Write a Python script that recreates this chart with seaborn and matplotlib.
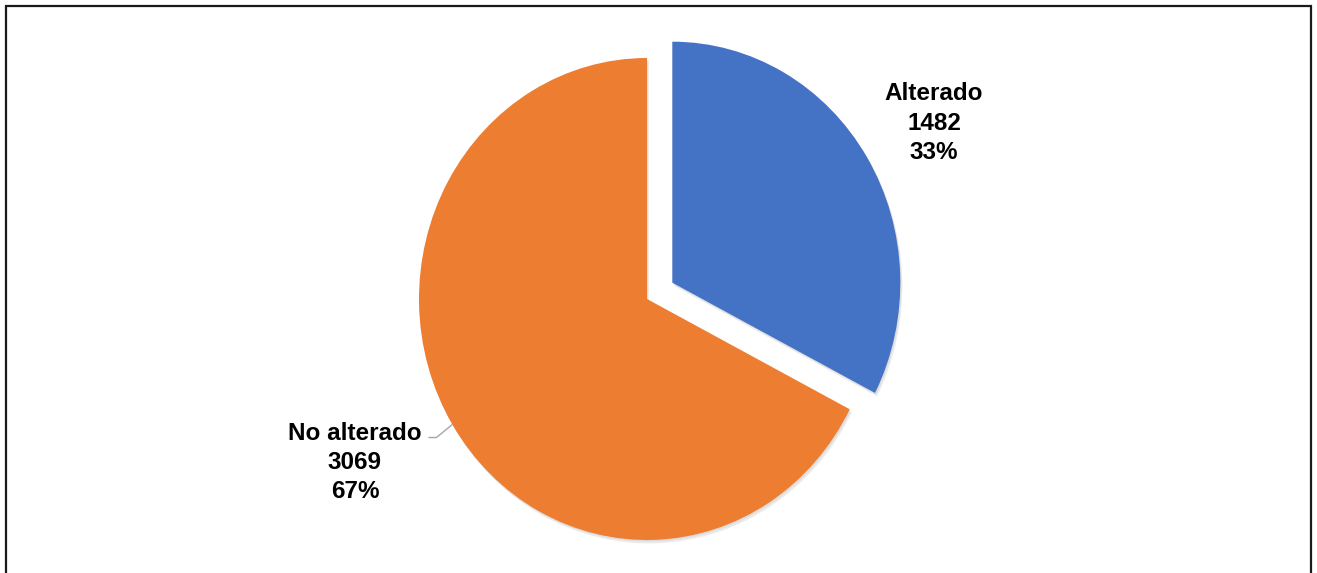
import numpy as np
import matplotlib
matplotlib.use("Agg")
import matplotlib.pyplot as plt
import matplotlib.patheffects as pe
from matplotlib.patches import Rectangle
import seaborn as sns

# Data
categories = ["Alterado", "No alterado"]
counts = [1482, 3069]
colors = ["#4472C4", "#ED7D31"]
explode = [0.13, 0.0]

sns.set_theme(style="white")
plt.rcParams["font.family"] = ["Liberation Sans", "DejaVu Sans"]

W, H = 1317, 573
fig = plt.figure(figsize=(W / 100, H / 100), dpi=100)
fig.patch.set_facecolor("white")

# Axes covering the full figure; pie centre sits at (647, 299) px,
# with a slightly narrower horizontal radius than vertical
cx, cy = 647, 299
rx, ry = 228, 241
ax = fig.add_axes([0, 0, 1, 1])

shadow = [
    pe.SimplePatchShadow(offset=(1.5, -2.5), shadow_rgbFace="#999999", alpha=0.18),
    pe.SimplePatchShadow(offset=(0.8, -1.2), shadow_rgbFace="#999999", alpha=0.18),
    pe.Normal(),
]

wedges, _ = ax.pie(
    counts,
    colors=colors,
    explode=explode,
    startangle=90,
    counterclock=False,
    radius=1.0,
    wedgeprops=dict(linewidth=0, path_effects=shadow),
)

ax.set_aspect("auto")
ax.set_xlim(-cx / rx, (W - cx) / rx)
ax.set_ylim(-(H - cy) / ry, cy / ry)
ax.axis("off")

total = sum(counts)
label_pos = [(1.259, 0.730), (-1.281, -0.680)]
for name, val, (lx, ly) in zip(categories, counts, label_pos):
    pct = round(100 * val / total)
    ax.text(lx, ly, f"{name}\n{val}\n{pct}%", ha="center", va="center",
            fontsize=17.5, fontweight="bold", color="#000000", linespacing=1.34)

# Leader line for the larger slice, starting at its mid-angle on the rim
w = wedges[1]
mid = np.deg2rad((w.theta1 + w.theta2) / 2)
px, py = np.cos(mid), np.sin(mid)
ex, ey = px - 0.07, py - 0.054
ax.plot([px, ex, ex - 0.035], [py, ey, ey], color="#A6A6A6", lw=1.0,
        solid_capstyle="butt")

# Outer frame
fig.patches.append(Rectangle((5.5 / W, -0.05), (1311 - 5.5) / W, (H - 5.5) / H + 0.05,
                             transform=fig.transFigure, fill=False,
                             edgecolor="#1a1a1a", linewidth=1.6))

fig.savefig("out.png", dpi=100, facecolor="white")
